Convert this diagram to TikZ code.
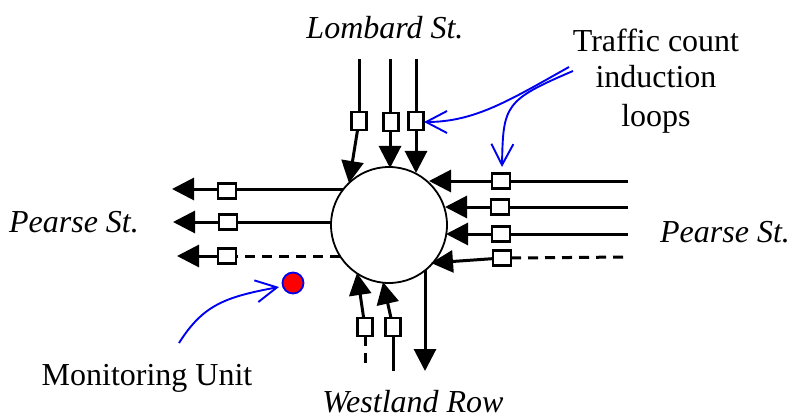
\documentclass[tikz,border=0pt]{standalone}
\usepackage{fontspec}
\setmainfont{Liberation Serif}
\usetikzlibrary{arrows.meta}
\tikzset{
  road/.style={line width=3pt,black},
  dash road/.style={road,dash pattern=on 10pt off 7pt},
  flow/.style={road,-{Triangle[length=22pt,width=22pt]}},
  loop h/.style={draw=black,fill=white,line width=2.5pt,minimum width=18pt,minimum height=15pt,inner sep=0pt,outer sep=0pt},
  loop v/.style={draw=black,fill=white,line width=2.5pt,minimum width=15pt,minimum height=18pt,inner sep=0pt,outer sep=0pt},
  pointer/.style={draw={rgb,255:red,0;green,0;blue,240},line width=1.9pt,-{Straight Barb[length=21pt,width=22pt,line width=1.9pt]}},
  label/.style={font=\fontsize{32}{38}\selectfont,inner sep=0pt,anchor=base},
  street/.style={label,font=\fontsize{32}{38}\selectfont\itshape},
}
\begin{document}
\begin{tikzpicture}[x=1pt,y=-1pt]
\useasboundingbox (0,0) rectangle (791,414);
% junction
\node[circle,draw=black,fill=white,line width=1.8pt,minimum size=116pt,inner sep=0pt] (hub) at (389,225) {};
% loops
\node[loop v] (t1) at (359,121) {};
\node[loop v] (t2) at (391,122) {};
\node[loop v] (t3) at (416,121) {};
\node[loop h] (r1) at (501,181) {};
\node[loop h] (r2) at (500,207) {};
\node[loop h] (r3) at (501,234) {};
\node[loop h] (r4) at (502,258) {};
\node[loop h] (l1) at (227,191) {};
\node[loop h] (l2) at (228,222) {};
\node[loop h] (l3) at (227,256) {};
\node[loop v] (b1) at (365,327) {};
\node[loop v] (b2) at (393,327) {};
% free ends and tips
\coordinate (t1s) at (359,59);
\coordinate (t2s) at (390,59);
\coordinate (t3s) at (416,59);
\coordinate (t1e) at (349,183);
\coordinate (t2e) at (390,168);
\coordinate (t3e) at (416,173);
\coordinate (r1s) at (628,181);
\coordinate (r2s) at (628,207);
\coordinate (r3s) at (628,234);
\coordinate (r4s) at (628,257);
\coordinate (r1e) at (429,181);
\coordinate (r2e) at (445,207);
\coordinate (r3e) at (446,234);
\coordinate (r4e) at (431,263);
\coordinate (l1s) at (343,189);
\coordinate (l2s) at (330,222);
\coordinate (l3s) at (340,256);
\coordinate (l1e) at (172,189);
\coordinate (l2e) at (173,222);
\coordinate (l3e) at (177,256);
\coordinate (b1s) at (365,363);
\coordinate (b2s) at (393,371);
\coordinate (b1e) at (357,273);
\coordinate (b2e) at (383,282);
\coordinate (outs) at (425,270);
\coordinate (oute) at (425,371);
% roads
\draw[road] (t1s) -- (t1);
\draw[road] (t2s) -- (t2s |- t2.north);
\draw[road] (t3s) -- (t3);
\draw[flow] (t1) -- (t1e);
\draw[flow] (t2e |- t2.south) -- (t2e);
\draw[flow] (t3) -- (t3e);
\draw[road] (r1s) -- (r1);
\draw[road] (r2s) -- (r2);
\draw[road] (r3s) -- (r3);
\draw[dash road] (r4.east) -- (r4s);
\draw[flow] (r1) -- (r1e);
\draw[flow] (r2) -- (r2e);
\draw[flow] (r3) -- (r3e);
\draw[flow] (r4) -- (r4e);
\draw[road] (l1s) -- (l1s -| l1.east);
\draw[road] (l2s) -- (l2);
\draw[dash road] (l3s) -- (l3);
\draw[flow] (l1.west |- l1e) -- (l1e);
\draw[flow] (l2) -- (l2e);
\draw[flow] (l3) -- (l3e);
\draw[dash road] (b1) -- (b1s);
\draw[road] (b2) -- (b2s);
\draw[flow] (b1) -- (b1e);
\draw[flow] (b2) -- (b2e);
\draw[flow] (outs) -- (oute);
% monitoring unit
\node[circle,draw={rgb,255:red,0;green,0;blue,240},fill=red,line width=1.8pt,minimum size=21pt,inner sep=0pt] (unit) at (293,283) {};
% pointers
\coordinate (p1) at (569,67);
\coordinate (p2) at (573,71);
\coordinate (p3) at (179,343);
\coordinate (p1e) at (424,122);
\coordinate (p2e) at (502,167);
\coordinate (p3e) at (279,287);
\draw[pointer] (p1) .. controls (510,100) and (475,122) .. (p1e);
\draw[pointer] (p2) .. controls (505,100) and (503,105) .. (p2e);
\draw[pointer] (p3) .. controls (203,305) and (225,297) .. (p3e);
% text
\node[street] (n1) at (385,39) {Lombard St.};
\node[street] (n2) at (74,232) {Pearse St.};
\node[street] (n3) at (725,242) {Pearse St.};
\node[street] (n4) at (413,412) {Westland Row};
\node[label] (n5) at (147,385) {Monitoring Unit};
\node[label] (n6) at (656,52) {Traffic count};
\node[label] (n7) at (656,88) {induction};
\node[label] (n8) at (656,127) {loops};
\end{tikzpicture}
\end{document}
